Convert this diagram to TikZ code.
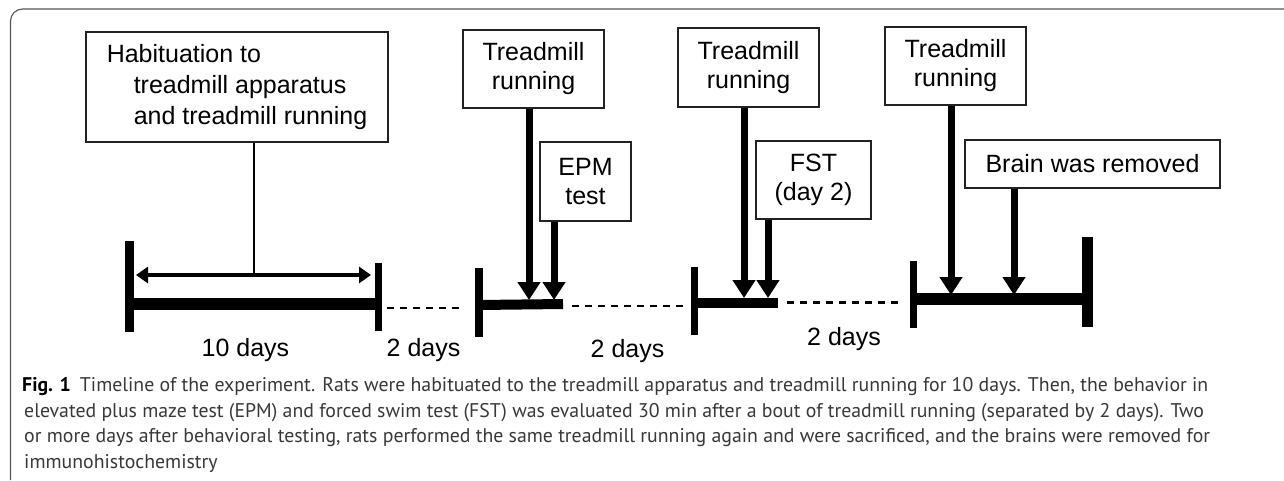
\documentclass[tikz,border=0pt]{standalone}
\usepackage{fontspec}
\usetikzlibrary{arrows.meta}
\newfontfamily\arialf{Liberation Sans}
\newfontfamily\capf{PT Sans}
\definecolor{captxt}{HTML}{383838}
\definecolor{boxline}{HTML}{222222}
\definecolor{frameline}{HTML}{555555}
\tikzset{
  box/.style={draw=boxline, line width=1.3pt, inner sep=0pt, align=center, font=\arialf\fontsize{25}{29}\selectfont},
  bigarrow/.style={line width=7pt, -{Triangle[width=22pt,length=18pt]}},
  dblarrow/.style={line width=3.5pt, {Triangle[width=16pt,length=12pt]}-{Triangle[width=16pt,length=12pt]}},
  bar/.style={line width=#1},
  dashline/.style={line width=2.4pt, dash pattern=on 7pt off 6pt},
  dayslabel/.style={anchor=base, inner sep=0pt, font=\arialf\fontsize{25}{29}\selectfont},
  capline/.style={anchor=base west, inner sep=0pt, text=captxt, font=\capf\fontsize{19.8}{26}\selectfont},
}
\begin{document}
\begin{tikzpicture}[x=1pt,y=-1pt]
\useasboundingbox (0,0) rectangle (1284,480);
% frame
\draw[frameline, line width=1.1pt] (10.5,480) -- (10.5,21) arc[start angle=180,end angle=270,radius=12] -- (1284,9);
% boxes
\node[box, minimum width=302pt, minimum height=110pt, align=left, font=\arialf\fontsize{25}{31}\selectfont] (hab) at (237,87)
  {Habituation to\\\hspace*{27pt}treadmill apparatus\\\hspace*{27pt}and treadmill running};
\node[box, minimum width=141pt, minimum height=78pt] (tr1) at (533.5,69) {Treadmill\\running};
\node[box, minimum width=141pt, minimum height=79pt] (tr2) at (748.5,67.5) {Treadmill\\running};
\node[box, minimum width=141pt, minimum height=78pt] (tr3) at (955.5,66) {Treadmill\\running};
\node[box, minimum width=91pt, minimum height=79pt] (epm) at (585.5,181.5) {EPM\\test};
\node[box, minimum width=115pt, minimum height=78pt] (fst) at (813.5,180) {FST\\(day 2)};
\node[box, minimum width=255pt, minimum height=48pt] (brain) at (1092.5,164) {Brain was removed};
% timeline bars
\coordinate (b1l) at (129.5,304); \coordinate (b1r) at (378,304);
\coordinate (b2l) at (479,305); \coordinate (b2r) at (563,304);
\coordinate (b3l) at (694,303); \coordinate (b3r) at (778,303);
\coordinate (b4l) at (913,299); \coordinate (b4r) at (1087.5,299);
\draw[bar=9pt] (129.5,241) -- (129.5,332);
\draw[bar=7pt] (378,263) -- (378,331);
\draw[bar=12pt] (b1l) -- (b1r);
\draw[bar=8pt] (479,268) -- (479,337);
\draw[bar=10pt] (b2l) -- (b2r);
\draw[bar=7pt] (694,267) -- (694,335);
\draw[bar=10pt] (b3l) -- (b3r);
\draw[bar=7pt] (913,261) -- (913,328);
\draw[bar=12pt] (b4l) -- (b4r);
\draw[bar=11pt] (1087.5,237) -- (1087.5,327);
% dashed gaps
\coordinate (d1a) at (387,308); \coordinate (d1b) at (463,308);
\coordinate (d2a) at (572,306); \coordinate (d2b) at (683,306);
\coordinate (d3a) at (787,302.5); \coordinate (d3b) at (898,302.5);
\draw[dashline] (d1a) -- (d1b);
\draw[dashline] (d2a) -- (d2b);
\draw[dashline] (d3a) -- (d3b);
% habituation span
\coordinate (hl) at (136,275); \coordinate (hr) at (371,275); \coordinate (hm) at (254,275);
\draw[dblarrow] (hl) -- (hr);
\draw[line width=1.5pt] (hab.south -| hm) -- (hm);
% event arrows
\coordinate (a1) at (529,300); \coordinate (a2) at (554,300);
\coordinate (a3) at (744,298); \coordinate (a4) at (768,298);
\coordinate (a5) at (951,295); \coordinate (a6) at (1014,295);
\draw[bigarrow] (tr1.south -| a1) -- (a1);
\draw[bigarrow] (epm.south -| a2) -- (a2);
\draw[bigarrow] (tr2.south -| a3) -- (a3);
\draw[bigarrow] (fst.south -| a4) -- (a4);
\draw[bigarrow] (tr3.south -| a5) -- (a5);
\draw[bigarrow] (brain.south -| a6) -- (a6);
% day labels
\node[dayslabel] (l1) at (245.5,356) {10 days};
\node[dayslabel] (l2) at (423.5,356) {2 days};
\node[dayslabel] (l3) at (627.5,357) {2 days};
\node[dayslabel] (l4) at (844,345) {2 days};
% caption
\node[capline] (c1) at (22,391) {\textbf{\color{black}Fig. 1}\hspace{9pt}Timeline of the experiment. Rats were habituated to the treadmill apparatus and treadmill running for 10 days. Then, the behavior in};
\node[capline] (c2) at (24,417) {elevated plus maze test (EPM) and forced swim test (FST) was evaluated 30 min after a bout of treadmill running (separated by 2 days). Two};
\node[capline] (c3) at (24,442.5) {or more days after behavioral testing, rats performed the same treadmill running again and were sacrificed, and the brains were removed for};
\node[capline] (c4) at (24,468) {immunohistochemistry};
\end{tikzpicture}
\end{document}
